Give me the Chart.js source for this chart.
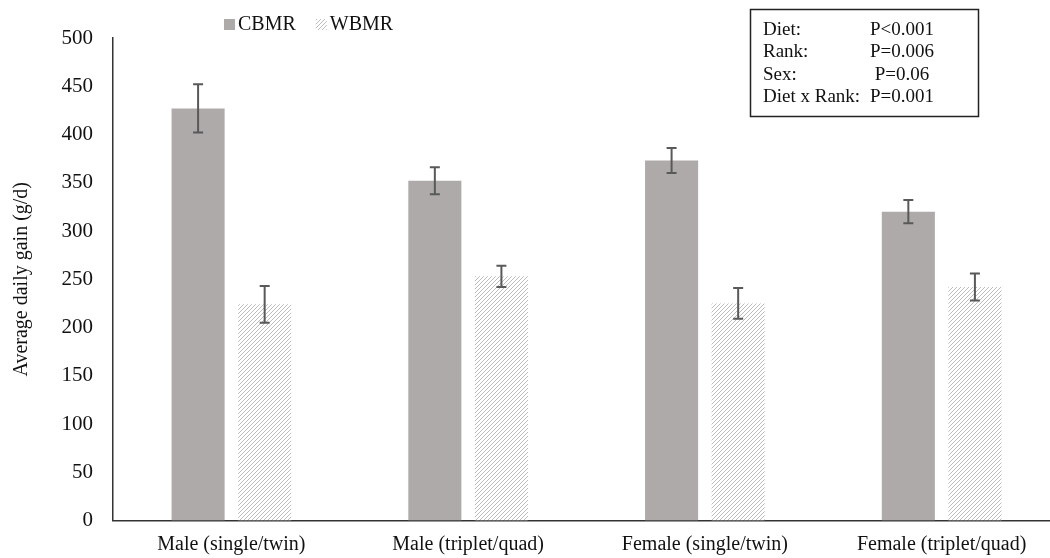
<!DOCTYPE html>
<html>
<head>
<meta charset="utf-8">
<title>Average daily gain</title>
<script src="https://cdn.jsdelivr.net/npm/chart.js@4.4.1/dist/chart.umd.min.js"></script>
<style>
  html, body { margin: 0; padding: 0; background: #fff; overflow: hidden; }
  #wrap { width: 1050px; height: 558px; overflow: hidden; }
</style>
</head>
<body>
<div id="wrap"><canvas id="grafico" width="1060" height="558"></canvas></div>
<script>
// datos
const categories = ['Male (single/twin)', 'Male (triplet/quad)', 'Female (single/twin)', 'Female (triplet/quad)'];
const cbmr = [427, 352, 373, 320];
const cbmrError = [25, 14, 13, 12];
const wbmr = [224, 253, 225, 242];
const wbmrError = [19, 11, 16, 14];
const yTicks = [0, 50, 100, 150, 200, 250, 300, 350, 400, 450, 500];

// recuadro de significancia
const noteLabels = ['Diet:', 'Rank:', 'Sex:', 'Diet x Rank:'];
const noteValues = ['P<0.001', 'P=0.006', 'P=0.06', 'P=0.001'];

const serif = '"Liberation Serif", "Times New Roman", serif';

// trama diagonal para WBMR
function makeHatch() {
  const s = 4;
  const c = document.createElement('canvas');
  c.width = s;
  c.height = s;
  const g = c.getContext('2d');
  g.fillStyle = '#ffffff';
  g.fillRect(0, 0, s, s);
  g.strokeStyle = '#bcbcbc';
  g.lineWidth = 1;
  g.beginPath();
  g.moveTo(0, s); g.lineTo(s, 0);
  g.moveTo(-1, 1); g.lineTo(1, -1);
  g.moveTo(s - 1, s + 1); g.lineTo(s + 1, s - 1);
  g.stroke();
  return g.createPattern(c, 'repeat');
}

const hatch = makeHatch();

// barras de error a partir de las escalas
const errorBars = {
  id: 'errorBars',
  afterDatasetsDraw(chart) {
    const ctx = chart.ctx;
    const y = chart.scales.y;
    ctx.save();
    ctx.strokeStyle = '#595959';
    ctx.lineWidth = 2;
    chart.data.datasets.forEach((ds, i) => {
      const meta = chart.getDatasetMeta(i);
      meta.data.forEach((bar, j) => {
        const v = ds.data[j];
        const e = ds.errors[j];
        const yTop = y.getPixelForValue(v + e);
        const yBot = y.getPixelForValue(v - e);
        ctx.beginPath();
        ctx.moveTo(bar.x, yTop); ctx.lineTo(bar.x, yBot);
        ctx.moveTo(bar.x - 5, yTop); ctx.lineTo(bar.x + 5, yTop);
        ctx.moveTo(bar.x - 5, yBot); ctx.lineTo(bar.x + 5, yBot);
        ctx.stroke();
      });
    });
    ctx.restore();
  }
};

// leyenda y recuadro de P
const extras = {
  id: 'extras',
  afterDraw(chart) {
    const ctx = chart.ctx;
    ctx.save();
    ctx.font = '20px ' + serif;
    ctx.textBaseline = 'middle';
    ctx.textAlign = 'left';
    let x = 224;
    chart.data.datasets.forEach(ds => {
      ctx.fillStyle = ds.backgroundColor;
      ctx.fillRect(x, 19, 11, 11);
      ctx.fillStyle = '#111';
      ctx.fillText(ds.label, x + 14, 25);
      x += 14 + ctx.measureText(ds.label).width + 20;
    });

    ctx.strokeStyle = '#222';
    ctx.lineWidth = 1.5;
    ctx.strokeRect(750.5, 9.5, 228, 107);
    ctx.font = '19px ' + serif;
    ctx.fillStyle = '#111';
    noteLabels.forEach((lab, i) => {
      const yy = 30 + i * 22.5;
      ctx.textAlign = 'left';
      ctx.fillText(lab, 763, yy);
      ctx.textAlign = 'center';
      ctx.fillText(noteValues[i], 902, yy);
    });
    ctx.restore();
  }
};

const ctx = document.getElementById('grafico').getContext('2d');
new Chart(ctx, {
  type: 'bar',
  data: {
    labels: categories,
    datasets: [{
      label: 'CBMR',
      data: cbmr,
      errors: cbmrError,
      backgroundColor: '#aeaaaa',
      borderWidth: 0,
      categoryPercentage: 0.5624,
      barPercentage: 0.797
    }, {
      label: 'WBMR',
      data: wbmr,
      errors: wbmrError,
      backgroundColor: hatch,
      borderWidth: 0,
      categoryPercentage: 0.5624,
      barPercentage: 0.797
    }]
  },
  options: {
    responsive: false,
    animation: false,
    layout: { padding: { top: 38, left: 0, right: 0, bottom: 0 } },
    plugins: {
      legend: { display: false },
      tooltip: { enabled: false }
    },
    scales: {
      x: {
        grid: { display: false, drawTicks: false },
        border: { display: true, color: '#333', width: 1.5 },
        ticks: { color: '#111', padding: 12, font: { family: serif, size: 20 } },
        afterFit(scale) { scale.height = 37.5; }
      },
      y: {
        min: 0,
        max: 500,
        grid: { display: false, drawTicks: false },
        border: { display: true, color: '#333', width: 1.5 },
        ticks: { color: '#111', padding: 20, font: { family: serif, size: 21 } },
        afterBuildTicks(scale) { scale.ticks = yTicks.map(v => ({ value: v })); },
        afterFit(scale) { scale.width = 113; },
        title: {
          display: true,
          text: 'Average daily gain (g/d)',
          color: '#111',
          padding: { top: 10, bottom: 0 },
          font: { family: serif, size: 20 }
        }
      }
    }
  },
  plugins: [errorBars, extras]
});
</script>
</body>
</html>
